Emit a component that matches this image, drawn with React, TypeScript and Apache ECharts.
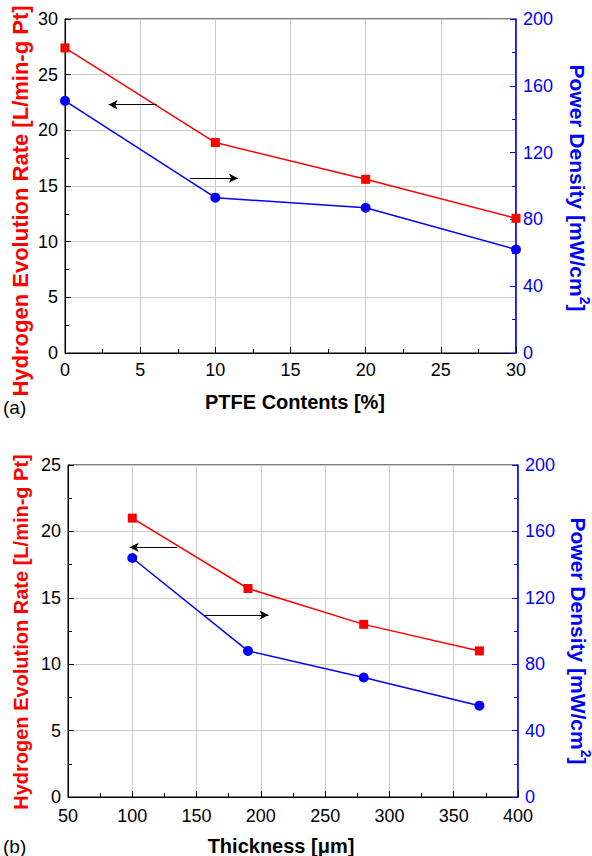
import React, { useEffect, useRef } from 'react';
import * as echarts from 'echarts';

const ptfeContents = [0, 10, 20, 30];
const ptfeHydrogen = [27.4, 18.9, 15.6, 12.1];
const ptfePower = [151, 93, 87, 62];
const thickness = [100, 190, 280, 370];
const thickHydrogen = [21.0, 15.7, 13.0, 11.0];
const thickPower = [144, 88, 72, 55];

// arrow annotations, in data coordinates [x, y(left axis)]
const ptfeArrowLeft = [[6.1, 22.3], [2.9, 22.3]];
const ptfeArrowRight = [[8.3, 15.7], [11.5, 15.7]];
const thickArrowLeft = [[135, 18.8], [98, 18.8]];
const thickArrowRight = [[156, 13.7], [206, 13.7]];

const leftName = 'Hydrogen Evolution Rate [L/min-g Pt]';
const rightNameMain = 'Power Density [mW/cm';
const ptfeName = 'PTFE Contents [%]';
const thickName = 'Thickness [μm]';

const FONT = "'Liberation Sans', Arial, sans-serif";
const RED = '#ff0000';
const BLUE = '#0000ff';

function zip(xs: number[], ys: number[]) {
  return xs.map((x, i) => [x, ys[i]]);
}

function arrows(list: number[][][]) {
  return {
    silent: true,
    symbol: ['none', 'arrow'],
    symbolSize: [7, 9],
    label: { show: false },
    lineStyle: { color: '#000', width: 1, type: 'solid' },
    emphasis: { disabled: true },
    data: list.map((a) => [{ coord: a[0] }, { coord: a[1] }]),
  };
}

function xAxis(gridIndex: number, min: number, max: number, interval: number, margin: number) {
  return {
    type: 'value',
    gridIndex,
    min,
    max,
    interval,
    axisLine: { show: true, lineStyle: { color: '#000', width: 1 } },
    axisTick: { show: true, inside: true, length: 6, lineStyle: { color: '#000' } },
    minorTick: { show: true, splitNumber: 2, length: 4, lineStyle: { color: '#000' } },
    axisLabel: { fontFamily: FONT, fontSize: 18, color: '#000', margin },
    splitLine: { show: true, lineStyle: { color: '#cccccc', width: 1 } },
  };
}

function leftAxis(gridIndex: number, max: number) {
  return {
    type: 'value',
    gridIndex,
    position: 'left',
    min: 0,
    max,
    interval: 5,
    axisLine: { show: true, lineStyle: { color: '#000', width: 1 } },
    axisTick: { show: true, inside: true, length: 6, lineStyle: { color: '#000' } },
    minorTick: { show: true, splitNumber: 2, length: 4, lineStyle: { color: '#000' } },
    axisLabel: { fontFamily: FONT, fontSize: 18, color: '#000', margin: 7 },
    splitLine: { show: true, lineStyle: { color: '#cccccc', width: 1 } },
  };
}

function rightAxis(gridIndex: number) {
  return {
    type: 'value',
    gridIndex,
    position: 'right',
    min: 0,
    max: 200,
    interval: 40,
    axisLine: { show: true, lineStyle: { color: BLUE, width: 1.5 } },
    axisTick: { show: true, inside: true, length: 6, lineStyle: { color: BLUE } },
    minorTick: { show: true, splitNumber: 2, length: 4, lineStyle: { color: BLUE } },
    axisLabel: { fontFamily: FONT, fontSize: 18, color: BLUE, margin: 7 },
    splitLine: { show: false },
  };
}

function redSeries(xIdx: number, yIdx: number, xs: number[], ys: number[], marks: number[][][]) {
  return {
    type: 'line',
    xAxisIndex: xIdx,
    yAxisIndex: yIdx,
    data: zip(xs, ys),
    symbol: 'rect',
    symbolSize: 9,
    lineStyle: { color: RED, width: 1.5 },
    itemStyle: { color: RED },
    emphasis: { disabled: true },
    markLine: arrows(marks),
  };
}

function blueSeries(xIdx: number, yIdx: number, xs: number[], ys: number[]) {
  return {
    type: 'line',
    xAxisIndex: xIdx,
    yAxisIndex: yIdx,
    data: zip(xs, ys),
    symbol: 'circle',
    symbolSize: 10,
    lineStyle: { color: BLUE, width: 1.5 },
    itemStyle: { color: BLUE },
    emphasis: { disabled: true },
  };
}

function leftTitle(x: number, y: number, size: number) {
  return {
    type: 'text',
    x,
    y,
    rotation: Math.PI / 2,
    style: {
      text: leftName,
      align: 'center',
      verticalAlign: 'middle',
      font: `bold ${size}px ${FONT}`,
      fill: RED,
    },
  };
}

function rightTitle(x: number, y: number, size: number) {
  return {
    type: 'text',
    x,
    y,
    rotation: -Math.PI / 2,
    style: {
      text: `{m|${rightNameMain}}{s|2}{m|]}`,
      align: 'center',
      verticalAlign: 'middle',
      rich: {
        m: { fontFamily: FONT, fontWeight: 'bold', fontSize: size, fill: BLUE, color: BLUE, verticalAlign: 'bottom', lineHeight: size + 4 },
        s: { fontFamily: FONT, fontWeight: 'bold', fontSize: Math.round(size * 0.68), fill: BLUE, color: BLUE, verticalAlign: 'top', lineHeight: size + 4 },
      },
    },
  };
}

function xTitle(x: number, y: number, size: number, text: string) {
  return {
    type: 'text',
    x,
    y,
    style: { text, align: 'center', verticalAlign: 'middle', font: `bold ${size}px ${FONT}`, fill: '#000' },
  };
}

export default function App() {
  const ref = useRef<HTMLDivElement>(null);
  useEffect(() => {
    document.body.style.margin = '0';
    if (!ref.current) return;
    const chart = echarts.init(ref.current, undefined, { renderer: 'svg' });
    chart.setOption({
      animation: false,
      backgroundColor: '#ffffff',
      grid: [
        { left: 65, right: 76, top: 19, height: 334, show: true, borderColor: '#000', borderWidth: 1, backgroundColor: 'transparent' },
        { left: 68, right: 74, top: 465, height: 332, show: true, borderColor: '#000', borderWidth: 1, backgroundColor: 'transparent' },
      ],
      xAxis: [xAxis(0, 0, 30, 5, 8), xAxis(1, 50, 400, 50, 10)],
      yAxis: [leftAxis(0, 30), rightAxis(0), leftAxis(1, 25), rightAxis(1)],
      series: [
        redSeries(0, 0, ptfeContents, ptfeHydrogen, [ptfeArrowLeft, ptfeArrowRight]),
        blueSeries(0, 1, ptfeContents, ptfePower),
        redSeries(1, 2, thickness, thickHydrogen, [thickArrowLeft, thickArrowRight]),
        blueSeries(1, 3, thickness, thickPower),
      ],
      graphic: [
        leftTitle(20, 201, 22),
        leftTitle(21, 632, 20),
        rightTitle(579, 188, 21),
        rightTitle(580, 641, 21),
        xTitle(295, 402, 20, ptfeName),
        xTitle(281, 846, 20, thickName),
        { type: 'text', x: 3, y: 407, style: { text: '(a)', font: `19px ${FONT}`, fill: '#000', verticalAlign: 'middle' } },
        { type: 'text', x: 3, y: 846, style: { text: '(b)', font: `19px ${FONT}`, fill: '#000', verticalAlign: 'middle' } },
      ],
    });
    return () => chart.dispose();
  }, []);
  return <div ref={ref} style={{ width: 592, height: 856 }} />;
}
